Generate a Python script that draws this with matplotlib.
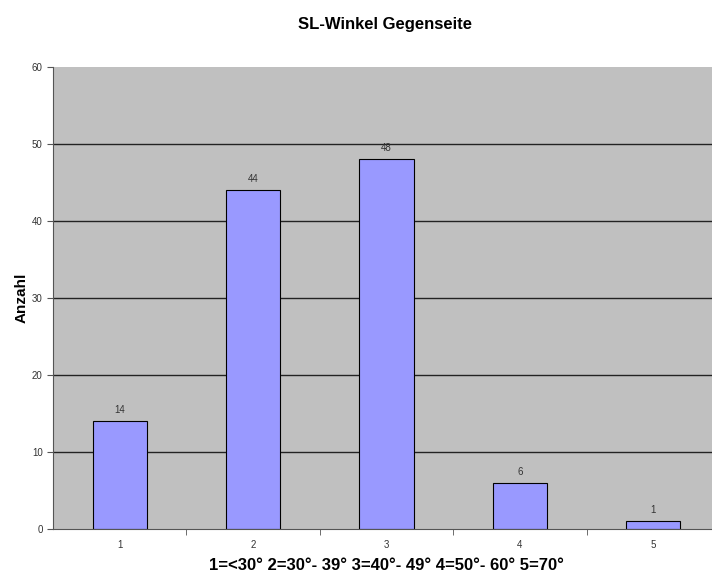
import matplotlib.pyplot as plt
import numpy as np

plt.rcParams['font.family'] = 'Liberation Sans'

# Data
categories = ['1', '2', '3', '4', '5']
counts = [14, 44, 48, 6, 1]
y_ticks = [0, 10, 20, 30, 40, 50, 60]

fig = plt.figure(figsize=(7.12, 5.75), dpi=100)
ax = fig.add_axes([53 / 712, 46 / 575, 667 / 712, 462 / 575])

x = np.arange(1, len(categories) + 1)
ax.set_facecolor('#C0C0C0')

# Gridlines (not at the top)
for yv in y_ticks[1:-1]:
    ax.axhline(yv, color='#222222', linewidth=1, zorder=1)

bars = ax.bar(x, counts, width=0.405, color='#9999FF', edgecolor='black',
              linewidth=0.8, zorder=2)

for xi, c in zip(x, counts):
    ax.text(xi, c + 0.8, str(c), ha='center', va='bottom', fontsize=7, color='#333333')

ax.set_xlim(0.5, len(categories) + 0.5)
ax.set_ylim(0, 60)
ax.set_yticks(y_ticks)
ax.set_xticks(x)
ax.set_xticklabels(categories)
ax.set_xticks(np.arange(1.5, len(categories) + 0.5, 1), minor=True)
ax.tick_params(axis='x', which='major', length=0, labelsize=7, pad=8, colors='#333333')
ax.tick_params(axis='x', which='minor', length=4, direction='out', color='#555555')
ax.tick_params(axis='y', length=4, labelsize=7, colors='#333333', color='#555555')

for s in ['top', 'right']:
    ax.spines[s].set_visible(False)
for s in ['left', 'bottom']:
    ax.spines[s].set_color('#555555')

ax.set_ylabel('Anzahl', fontsize=11, fontweight='bold', labelpad=2)
ax.set_xlabel('1=<30° 2=30°- 39° 3=40°- 49° 4=50°- 60° 5=70°',
              fontsize=12, fontweight='bold', labelpad=6)
fig.text(385 / 712, 1 - 25 / 575, 'SL-Winkel Gegenseite', ha='center', va='center',
         fontsize=12, fontweight='bold')

fig.savefig('out.png', dpi=100)
